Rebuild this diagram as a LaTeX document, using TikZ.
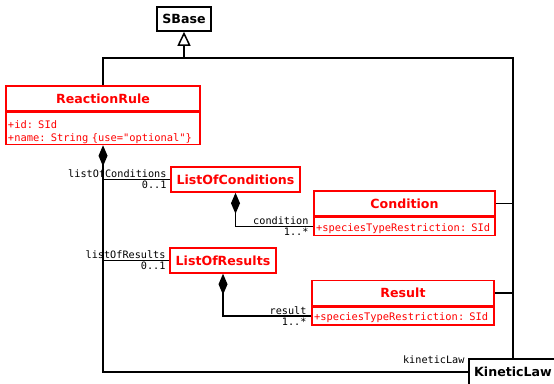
\documentclass[tikz,border=0pt]{standalone}
\usepackage{fontspec}
\setmainfont{DejaVu Sans}
\setmonofont{DejaVu Sans Mono}
\usetikzlibrary{arrows.meta,positioning}

\begin{document}
\begin{tikzpicture}[x=1pt, y=-1pt, line width=1.5pt,
		comp/.style = {{Diamond[length=21pt,width=9pt]}-},
		inherit/.style = {-{Triangle[open,length=14pt,width=13pt]}}]
		\tikzset{classbox/.style={draw=red,text=red,minimum height=25pt,inner sep=0pt,font=\fontsize{12.6}{14}\selectfont\bfseries},
			attrbox/.style={draw=red,text=red,inner xsep=2pt,inner ysep=0pt,align=left,font=\fontsize{10.4}{13}\selectfont\ttfamily,execute at begin node={\rule{0pt}{#1}}},
			attrbox/.default=12pt,
			role/.style={inner sep=1pt,font=\fontsize{10.2}{12}\selectfont\ttfamily}}
		\useasboundingbox (0,0) rectangle (554,383);

		% Classes
		\node[classbox, draw=black, text=black, minimum width=54pt, minimum height=24pt] (sbase) at (184,19) {SBase};

		\node[classbox, minimum width=194pt] (rr) at (103,98.5) {ReactionRule};
		\node[attrbox=16pt, text width=190pt, minimum height=32pt, below=0pt of rr] (rrattr) {+id: SId\\+name: String \{use="optional"\}};

		\node[classbox, minimum width=129pt] (loc) at (235.5,179.5) {ListOfConditions};

		\node[classbox, minimum width=106pt] (lor) at (223,260.5) {ListOfResults};

		\node[classbox, minimum width=181pt] (cond) at (404.5,203.5) {Condition};
		\node[attrbox, text width=177pt, minimum height=18pt, below=0pt of cond] (condattr) {+speciesTypeRestriction: SId};

		\node[classbox, minimum width=182pt] (res) at (403,293) {Result};
		\node[attrbox, text width=178pt, minimum height=18pt, below=0pt of res] (resattr) {+speciesTypeRestriction: SId};

		\node[classbox, draw=black, text=black, minimum width=88pt, minimum height=26pt] (kl) at (513,372) {KineticLaw};

		% Inheritance
		\coordinate (inh) at (184,58);
		\draw [inherit] (rr.north) |- (inh) -- (sbase.south);
		\draw (inh) -| (kl.north);
		\draw (cond.east) -- (cond.east -| kl.north);
		\draw (res.east) -- (res.east -| kl.north);

		% Compositions
		\draw [comp] (rrattr.south) |- (kl.west);
		\node[role, anchor=south east] (klrole) at ([xshift=-2pt,yshift=7pt]kl.west) {kineticLaw};

		\draw (rrattr.south |- loc.west) -- (loc.west);
		\node[role, anchor=south east] (locrole) at ([xshift=-2pt]loc.west) {listOfConditions};
		\node[role, anchor=north east] (locmult) at ([xshift=-2pt]loc.west) {0..1};

		\draw (rrattr.south |- lor.west) -- (lor.west);
		\node[role, anchor=south east] (lorrole) at ([xshift=-2pt]lor.west) {listOfResults};
		\node[role, anchor=north east] (lormult) at ([xshift=-2pt]lor.west) {0..1};

		\draw [comp] (loc.south) |- (condattr.west);
		\node[role, anchor=south east] (condrole) at ([xshift=-3pt]condattr.west) {condition};
		\node[role, anchor=north east] (condmult) at ([xshift=-3pt]condattr.west) {1..*};

		\draw [comp] (lor.south) |- (resattr.west);
		\node[role, anchor=south east] (resrole) at ([xshift=-3pt]resattr.west) {result};
		\node[role, anchor=north east] (resmult) at ([xshift=-3pt]resattr.west) {1..*};

	\end{tikzpicture}
\end{document}
